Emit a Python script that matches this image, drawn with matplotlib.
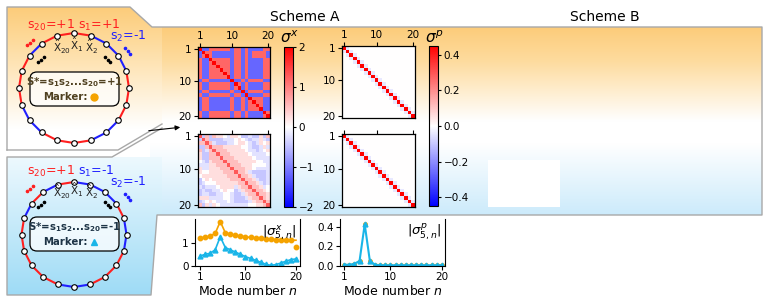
import numpy as np
import matplotlib
matplotlib.use('Agg')
import matplotlib.pyplot as plt
from matplotlib.patches import Polygon, FancyBboxPatch, Rectangle
from matplotlib.colors import LinearSegmentedColormap

# ---------------- data ----------------
modes = list(range(1, 21))
# |sigma^x_{5,n}| (Scheme A)
sx_orange_line = [1.22, 1.25, 1.30, 1.42, 1.94, 1.45, 1.38, 1.33, 1.30, 1.27,
                  1.24, 1.22, 1.20, 1.18, 1.16, 1.15, 1.14, 1.13, 1.12, 1.12]
sx_orange_mark = [1.22, 1.25, 1.30, 1.42, 1.94, 1.45, 1.38, 1.33, 1.30, 1.27,
                  1.24, 1.22, 1.20, 1.18, 1.16, 1.15, 1.14, 1.13, 1.12, 0.82]
sx_blue = [0.43, 0.50, 0.55, 0.70, 1.27, 0.80, 0.70, 0.60, 0.50, 0.40,
           0.32, 0.24, 0.15, 0.07, 0.02, 0.05, 0.12, 0.20, 0.27, 0.30]
# |sigma^p_{5,n}|
sp_orange = [0.01, 0.01, 0.02, 0.05, 0.43, 0.05, 0.01, 0.005, 0.005, 0.005,
             0.005, 0.005, 0.005, 0.005, 0.005, 0.005, 0.005, 0.005, 0.005, 0.005]
sp_blue = [0.01, 0.01, 0.02, 0.05, 0.43, 0.05, 0.01, 0.005, 0.005, 0.005,
           0.005, 0.005, 0.005, 0.005, 0.005, 0.005, 0.005, 0.005, 0.005, 0.005]

# ring bond signs s_1..s_20 (bond i joins site i and i+1)
ring_top = [+1, -1, -1, -1, +1, +1, +1, -1, -1, +1,
            +1, +1, -1, -1, +1, +1, +1, -1, +1, +1]
ring_bot = [-1, -1, -1, +1, -1, -1, +1, +1, +1, -1,
            -1, +1, +1, +1, +1, +1, -1, +1, -1, +1]

# sigma^x matrices (symbols -> values)
sx_levels = {'D': 2.0, '+': 1.2, '-': -1.2}
sx_top_rows = [
    "D--++++++-++-+----++",
    "-D++------++-+-++++-",
    "-+D+------++-+-++++-",
    "+--D+++++-++-+----++",
    "+--+D++++-++-+----++",
    "+--++D+++-++-+----++",
    "+--+++D++-++-+----++",
    "+--++++D+-++-+----++",
    "+--+++++D-++-+----++",
    "-++------D--+-++++--",
    "+--++++++-D+-+----++",
    "+--++++++-+D-+----++",
    "-++------+--D-++++--",
    "+--++++++-++-D----++",
    "-++------+--+-D+++--",
    "-++------+--+-+D++--",
    "-++------+--+-++D+--",
    "-++------+--+-+++D--",
    "+--++++++-++-+----D+",
    "+--++++++-++-+----+D",
]
sx2_levels = {'D': 1.3, 'r': 0.5, 'p': 0.25, '0': 0.0, 'c': -0.22, 'b': -0.45}
sx_bot_rows = [
    "Dbrbrpp0cpp0bbcbbpbr",
    "bDrbbbbccc0p0cbccpcb",
    "rrDrcbbbcc0pp0cbcp0p",
    "bbrDrrrppppp00cbbcpc",
    "rbcrDrrrppppp0ccbc0p",
    "pbbrrDrrrppppp0cccc0",
    "pbbrrrDrrrppppp0cccc",
    "0cbprrrDrrrppppp00cc",
    "cccpprrrDrrrppp0000c",
    "pccppprrrDrrrpp0cccc",
    "p00pppprrrDrrpcbbbbc",
    "0ppppppprrrDrrpcbbbc",
    "b0p0ppppprrrDrrpcbbc",
    "bc000pppppprrDrrpcbc",
    "cbccc0ppppcprrDrrpc0",
    "bcbbcc0p00bcprrDrrp0",
    "bccbbcc00cbbcprrDrrp",
    "pppcccc00cbbbcprrDrp",
    "bc0p0ccc0cbbbbcprrDr",
    "rbpcp0cccccccc00pprD",
]
sp_levels = {'D': 0.45, 'n': -0.04, '0': 0.0}
sp_top_rows = ["".join('D' if i == j else ('n' if abs(i - j) == 1 else '0') for j in range(20)) for i in range(20)]
sp_bot_rows = sp_top_rows

# ---------------- styling ----------------
RED = '#ff1f1f'
BLUE = '#2020ff'
ORANGE = '#f5a300'
SKY = '#19b5e8'
W, H = 772, 302

fig = plt.figure(figsize=(W / 100, H / 100), dpi=100)


def rect(x0, y0, x1, y1):
    return [x0 / W, 1 - y1 / H, (x1 - x0) / W, (y1 - y0) / H]


bg = fig.add_axes([0, 0, 1, 1], zorder=0)
bg.axis('off')


def grad_fill(pts, stops, y0, y1):
    cmap = LinearSegmentedColormap.from_list('g', stops)
    arr = np.linspace(0, 1, 256).reshape(-1, 1)
    poly = Polygon(pts, closed=True, facecolor='none', edgecolor='none')
    bg.add_patch(poly)
    xs = [p[0] for p in pts]
    im = bg.imshow(arr, cmap=cmap, aspect='auto', extent=(min(xs), max(xs), y1, y0),
                   interpolation='bilinear', zorder=0)
    im.set_clip_path(poly)


OR_TOP = (0.99, 0.80, 0.48)
WHITE = (1, 1, 1)
BL_BOT = (0.80, 0.92, 0.985)

# main panel
grad_fill([(150, 27), (762, 27), (762, 215), (150, 215)],
          [(0, OR_TOP), (0.18, (0.995, 0.86, 0.62)), (0.5, WHITE), (0.62, WHITE), (1, BL_BOT)], 27, 215)
# upper-left panel
grad_fill([(7, 7), (130, 7), (152, 27), (162, 27), (162, 124), (120, 150), (7, 150)],
          [(0, OR_TOP), (0.25, (0.995, 0.86, 0.62)), (0.85, WHITE), (1, WHITE)], 7, 150)
# lower-left panel
grad_fill([(7, 157), (112, 157), (162, 128), (162, 215), (157, 215), (151, 295), (7, 295)],
          [(0, (0.93, 0.975, 0.995)), (1, (0.62, 0.86, 0.965))], 157, 295)

GRAY = '#a8a8a8'
bg.plot([7, 7, 130, 152, 762, 762, 157, 151, 7, 7, 112, 162],
        [150, 7, 7, 27, 27, 215, 215, 295, 295, 157, 157, 128], color=GRAY, lw=1, zorder=2)
bg.plot([7, 118, 162], [150, 150, 124], color=GRAY, lw=1, zorder=2)

# Scheme B white box
bg.add_patch(Rectangle((488, 160), 72, 47, facecolor='white', edgecolor='none', zorder=2))

bg.text(305, 17, 'Scheme A', ha='center', va='center', fontsize=10)
bg.text(605, 17, 'Scheme B', ha='center', va='center', fontsize=10)

# arrow
bg.annotate('', xy=(183, 127), xytext=(146, 131),
            arrowprops=dict(arrowstyle='-|>', color='black', lw=0.8, mutation_scale=7), zorder=3)


def draw_ring(cx, cy, r, signs, labels, sstar, marker, mcolor, tcolor, ly, xy_y, box_y):
    ang = np.deg2rad(90 - 18 * np.arange(20))
    xs = cx + r * np.cos(ang)
    ys = cy - r * np.sin(ang)
    for i in range(20):
        j = (i + 1) % 20
        bg.plot([xs[i], xs[j]], [ys[i], ys[j]], color=RED if signs[i] > 0 else BLUE,
                lw=1.5, zorder=3, solid_capstyle='round')
    bg.scatter(xs, ys, s=16, facecolor='white', edgecolor='black', lw=0.8, zorder=4)
    (t20, c20), (t1, c1), (t2, c2) = labels
    bg.text(27, ly, t20, color=c20, fontsize=9, ha='left', va='center', zorder=5)
    bg.text(78, ly, t1, color=c1, fontsize=9, ha='left', va='center', zorder=5)
    bg.text(110, ly + 11, t2, color=c2, fontsize=9, ha='left', va='center', zorder=5)
    # dots
    for k in range(3):
        bg.plot(27 + 3 * k, ly + 20 - 2.5 * k, 'o', color=c20, ms=1.6, zorder=5)
        bg.plot(125 + 2.5 * k, ly + 23 + 3 * k, 'o', color=c2, ms=1.6, zorder=5)
        bg.plot(38 + 3 * k, xy_y + 15 - 2.5 * k, 'o', color='black', ms=1.6, zorder=5)
        bg.plot(105 + 2.5 * k, xy_y + 10 + 2.5 * k, 'o', color='black', ms=1.6, zorder=5)
    bg.text(62, xy_y, r'$\hat{\mathrm{X}}_{20}$', fontsize=7.5, ha='center', va='center', color='#222222', zorder=5)
    bg.text(77, xy_y - 2, r'$\hat{\mathrm{X}}_{1}$', fontsize=7.5, ha='center', va='center', color='#222222', zorder=5)
    bg.text(92, xy_y, r'$\hat{\mathrm{X}}_{2}$', fontsize=7.5, ha='center', va='center', color='#222222', zorder=5)
    box = FancyBboxPatch((30, box_y), 89, 34, boxstyle='round,pad=0,rounding_size=7',
                         facecolor=(1, 1, 1, 0.75), edgecolor='black', lw=0.9, zorder=5)
    bg.add_patch(box)
    bg.text(74.5, box_y + 10, sstar, fontsize=7.3, fontweight='bold', ha='center', va='center',
            color=tcolor, zorder=6)
    bg.text(88, box_y + 25, 'Marker:', fontsize=7.3, fontweight='bold', ha='right', va='center',
            color=tcolor, zorder=6)
    bg.plot(93.5, box_y + 25, marker, color=mcolor, ms=5, zorder=6)


draw_ring(74, 88, 55, ring_top,
          [(r's$_{20}$=+1', RED), (r's$_{1}$=+1', RED), (r's$_{2}$=-1', BLUE)],
          r'S*=s$_\mathbf{1}$s$_\mathbf{2}$...s$_\mathbf{20}$=+1', 'o', ORANGE, '#4f4020',
          25, 47, 72)
draw_ring(74, 234.5, 52.5, ring_bot,
          [(r's$_{20}$=+1', RED), (r's$_{1}$=-1', BLUE), (r's$_{2}$=-1', BLUE)],
          r'S*=s$_\mathbf{1}$s$_\mathbf{2}$...s$_\mathbf{20}$=-1', '^', SKY, '#1e3446',
          171, 192, 217)

bg.set_xlim(0, W)
bg.set_ylim(H, 0)


def build(rows, levels):
    return np.array([[levels[c] for c in row] for row in rows])


def heat(box, rows, levels, vmax, top_labels):
    ax = fig.add_axes(rect(*box), zorder=3)
    im = ax.imshow(build(rows, levels), cmap='bwr', vmin=-vmax, vmax=vmax,
                   extent=(0.5, 20.5, 20.5, 0.5), aspect='auto', interpolation='nearest')
    ax.set_xticks([1, 10, 20])
    ax.set_yticks([1, 10, 20])
    ax.xaxis.tick_top()
    if not top_labels:
        ax.set_xticklabels([])
    ax.tick_params(labelsize=7.5, length=3, width=0.8, pad=1.5)
    for s in ax.spines.values():
        s.set_linewidth(0.9)
    return im


im1 = heat((198, 47, 270, 118), sx_top_rows, sx_levels, 2.0, True)
heat((198, 134, 270, 207), sx_bot_rows, sx2_levels, 2.0, False)
im3 = heat((342, 46, 415, 118), sp_top_rows, sp_levels, 0.45, True)
heat((342, 134, 415, 207), sp_bot_rows, sp_levels, 0.45, False)

cax1 = fig.add_axes(rect(284, 47, 293, 207), zorder=3)
cb1 = fig.colorbar(im1, cax=cax1, ticks=[-2, -1, 0, 1, 2])
cb1.ax.tick_params(labelsize=7.5, length=2.5, width=0.8, pad=1.5)
cb1.outline.set_linewidth(0.8)
cax2 = fig.add_axes(rect(429, 46, 438, 206), zorder=3)
cb2 = fig.colorbar(im3, cax=cax2, ticks=[-0.4, -0.2, 0.0, 0.2, 0.4])
cb2.ax.tick_params(labelsize=7.5, length=2.5, width=0.8, pad=1.5)
cb2.outline.set_linewidth(0.8)
bg.text(289, 38, r'$\sigma^x$', fontsize=11, ha='center', va='center', zorder=6)
bg.text(434, 38, r'$\sigma^p$', fontsize=11, ha='center', va='center', zorder=6)

# line plots
ax5 = fig.add_axes(rect(195, 219, 300, 266), zorder=3)
ax5.plot(modes, sx_orange_line, color=ORANGE, lw=1.2)
ax5.plot(modes, sx_orange_mark, 'o', color=ORANGE, ms=3.2, lw=0)
ax5.plot(modes, sx_blue, '-^', color=SKY, lw=1.2, ms=3.5)
ax5.set_xlim(0.0, 20.8)
ax5.set_ylim(-0.01, 2.05)
ax5.set_xticks([1, 10, 20])
ax5.set_yticks([0, 1])
ax5.spines['top'].set_visible(False)
ax5.tick_params(labelsize=7.5, length=3, width=0.8, pad=1.5)
ax5.set_xlabel('Mode number $n$', fontsize=9, labelpad=1)
ax5.text(0.97, 0.72, r'$|\sigma^x_{5,n}|$', transform=ax5.transAxes, ha='right', va='center', fontsize=9.5)

ax6 = fig.add_axes(rect(340, 219, 445, 266), zorder=3)
ax6.plot(modes, sp_orange, 'o', color=ORANGE, ms=2.5)
ax6.plot(modes, sp_blue, '-^', color=SKY, lw=1.5, ms=3.5)
ax6.set_xlim(0.2, 20.6)
ax6.set_ylim(-0.003, 0.485)
ax6.set_xticks([1, 10, 20])
ax6.set_yticks([0.0, 0.2, 0.4])
ax6.spines['top'].set_visible(False)
ax6.tick_params(labelsize=7.5, length=3, width=0.8, pad=1.5)
ax6.set_xlabel('Mode number $n$', fontsize=9, labelpad=1)
ax6.text(0.97, 0.72, r'$|\sigma^p_{5,n}|$', transform=ax6.transAxes, ha='right', va='center', fontsize=9.5)

fig.savefig('out.png', dpi=100)
